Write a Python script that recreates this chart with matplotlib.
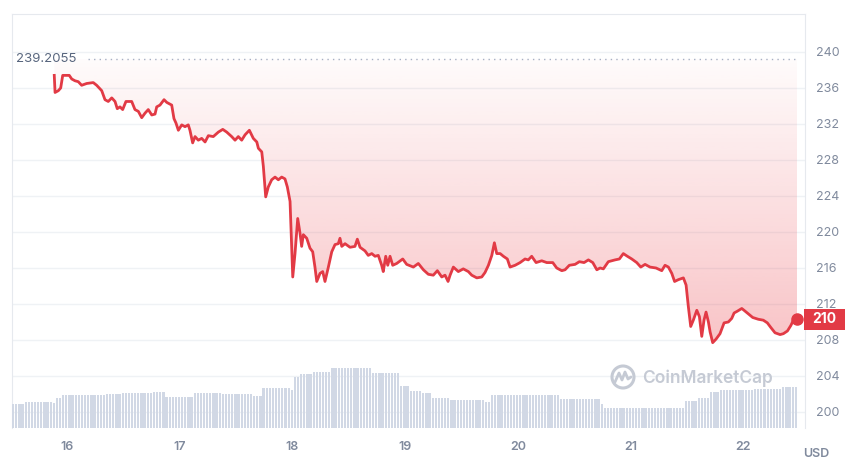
import numpy as np
import matplotlib.pyplot as plt
from matplotlib.patches import Rectangle, Ellipse
from matplotlib.lines import Line2D
from matplotlib.colors import to_rgb
from matplotlib.transforms import blended_transform_factory

plt.rcParams['font.family'] = ['Inter', 'DejaVu Sans']

# price in USD; t = day of month (fractional)
t = [15.887, 15.894, 15.923, 15.944, 15.962, 15.997, 16.020, 16.042, 16.071, 16.100,
     16.130, 16.175, 16.233, 16.263, 16.308, 16.337, 16.366, 16.397, 16.426, 16.446,
     16.470, 16.494, 16.523, 16.574, 16.603, 16.633, 16.663, 16.692, 16.721, 16.752,
     16.781, 16.796, 16.825, 16.861, 16.885, 16.929, 16.949, 16.967, 16.988, 17.018,
     17.047, 17.076, 17.091, 17.115, 17.136, 17.165, 17.195, 17.225, 17.254, 17.298,
     17.343, 17.382, 17.417, 17.461, 17.491, 17.520, 17.550, 17.580, 17.618, 17.653,
     17.684, 17.698, 17.728, 17.742, 17.763, 17.786, 17.816, 17.846, 17.875, 17.905,
     17.934, 17.955, 17.979, 17.994, 18.003, 18.023, 18.047, 18.067, 18.082, 18.097,
     18.127, 18.156, 18.180, 18.200, 18.216, 18.245, 18.269, 18.289, 18.319, 18.349,
     18.378, 18.407, 18.422, 18.438, 18.467, 18.511, 18.555, 18.576, 18.600, 18.644,
     18.673, 18.704, 18.733, 18.762, 18.792, 18.806, 18.828, 18.846, 18.866, 18.890,
     18.925, 18.979, 19.014, 19.073, 19.117, 19.162, 19.206, 19.250, 19.286, 19.325,
     19.354, 19.381, 19.399, 19.428, 19.472, 19.516, 19.561, 19.591, 19.636, 19.680,
     19.709, 19.739, 19.769, 19.792, 19.813, 19.843, 19.872, 19.907, 19.931, 19.976,
     20.020, 20.064, 20.093, 20.123, 20.162, 20.212, 20.257, 20.310, 20.345, 20.390,
     20.419, 20.457, 20.508, 20.546, 20.588, 20.626, 20.665, 20.701, 20.730, 20.759,
     20.803, 20.863, 20.901, 20.936, 20.972, 21.011, 21.055, 21.091, 21.129, 21.173,
     21.226, 21.277, 21.306, 21.336, 21.366, 21.391, 21.424, 21.469, 21.493, 21.513,
     21.534, 21.557, 21.588, 21.611, 21.632, 21.652, 21.670, 21.691, 21.706, 21.729,
     21.759, 21.794, 21.830, 21.868, 21.898, 21.919, 21.948, 21.987, 22.007, 22.045,
     22.084, 22.134, 22.178, 22.214, 22.244, 22.282, 22.327, 22.356, 22.392, 22.422,
     22.445, 22.478]
price = [237.4, 235.5, 235.7, 236.0, 237.4, 237.4, 237.4, 237.0, 236.8, 236.7,
         236.3, 236.5, 236.6, 236.3, 235.7, 234.7, 234.5, 234.9, 234.5, 233.7,
         233.9, 233.6, 234.5, 234.5, 233.6, 233.4, 232.7, 233.2, 233.6, 233.0,
         233.1, 233.9, 234.1, 234.7, 234.4, 234.1, 232.6, 232.1, 231.3, 231.9,
         231.7, 231.9, 231.3, 229.9, 230.6, 230.2, 230.4, 230.0, 230.7, 230.6,
         231.1, 231.4, 231.1, 230.6, 230.2, 230.6, 230.2, 230.8, 231.3, 230.4,
         230.0, 229.3, 228.9, 227.3, 223.9, 225.0, 225.8, 226.1, 225.8, 226.1,
         225.9, 225.0, 223.4, 218.0, 215.0, 217.6, 221.5, 219.9, 218.4, 219.7,
         219.3, 218.2, 217.8, 216.1, 214.5, 215.4, 215.6, 214.5, 216.1, 217.8,
         218.6, 218.7, 219.3, 218.4, 218.7, 218.3, 218.4, 219.2, 218.3, 217.9,
         217.4, 217.6, 217.3, 217.4, 216.3, 215.6, 217.3, 216.3, 217.3, 216.3,
         216.5, 217.0, 216.4, 216.1, 216.5, 215.8, 215.3, 215.2, 215.7, 215.0,
         215.2, 214.5, 215.2, 216.1, 215.6, 215.9, 215.6, 215.2, 214.9, 215.0,
         215.5, 216.3, 217.4, 218.8, 217.6, 217.6, 217.3, 217.0, 216.1, 216.3,
         216.6, 217.0, 216.9, 217.3, 216.6, 216.8, 216.6, 216.6, 216.0, 215.7,
         215.8, 216.3, 216.4, 216.7, 216.6, 216.9, 216.6, 215.8, 216.0, 215.9,
         216.7, 216.9, 217.0, 217.6, 217.3, 217.0, 216.6, 216.1, 216.4, 216.1,
         216.0, 215.7, 216.3, 216.1, 215.4, 214.5, 214.7, 214.9, 214.1, 211.7,
         209.5, 210.2, 211.3, 210.6, 208.4, 210.2, 211.1, 210.0, 208.9, 207.7,
         208.1, 208.7, 209.9, 210.0, 210.4, 211.0, 211.2, 211.5, 211.3, 210.9,
         210.5, 210.3, 210.2, 209.9, 209.4, 208.8, 208.6, 208.7, 209.0, 209.6,
         210.2, 210.3]
REF_PRICE = 239.2055
LAST_LABEL = "210"

# 24h volume (bn USD), one bar per 40 minutes: level and number of bars at it
vol_level = [2.40, 2.57, 2.50, 2.97, 3.30, 3.40, 3.50, 3.63, 3.07, 3.47, 3.37, 3.23,
             3.97, 3.80, 5.07, 5.40, 5.57, 5.97, 5.50, 4.23, 3.73, 3.50, 3.00, 2.76,
             2.58, 3.26, 2.90, 2.40, 2.00, 2.66, 3.00, 3.56, 3.76, 3.93, 4.10]
vol_count = [4, 9, 1, 2, 14, 5, 10, 4, 9, 9, 10, 3, 9, 1, 2, 4, 6, 13, 9, 3, 4, 3,
             6, 11, 2, 22, 13, 1, 26, 4, 4, 3, 11, 9, 5]
VOL_T0, VOL_STEP = 15.512, 1 / 36

days = [16, 17, 18, 19, 20, 21, 22]
yticks = list(range(200, 241, 4))

RED = '#e23a45'
GREY = '#808a9d'
GRID = '#eff2f5'
XLIM = (15.512, 22.548)
YLIM = (198.22, 244.22)
W, H = 850, 467
rect = [12 / W, 1 - 428 / H, 793 / W, 414 / H]

fig = plt.figure(figsize=(W / 100, H / 100), dpi=100)
ax = fig.add_axes(rect)

# gradient fill between the line and the reference price
poly = ax.fill_between(t, price, REF_PRICE, color='none', lw=0)
grad = np.zeros((256, 1, 4))
grad[..., :3] = to_rgb('#ea3943')
grad[:, 0, 3] = np.linspace(0.30, 0.02, 256)
im = ax.imshow(grad, origin='lower', aspect='auto', interpolation='bilinear',
               extent=[t[0], t[-1], min(price), REF_PRICE], zorder=1)
im.set_clip_path(poly.get_paths()[0], transform=ax.transData)

ax.plot(t, price, color=RED, lw=2.0, zorder=3, solid_joinstyle='round')
ax.plot(t[-1], price[-1], 'o', ms=8, color=RED, zorder=4, clip_on=False)

# reference price dotted line + label
ax.axhline(REF_PRICE, xmin=0.096, xmax=0.99, color='#a6b0c3', lw=1,
           ls=(0, (1, 3)), zorder=2)
tr = blended_transform_factory(ax.transAxes, ax.transData)
ax.text(0.005, REF_PRICE, f"{REF_PRICE:.4f}", transform=tr, ha='left',
        va='center', fontsize=9.5, color='#58667e')

ax.set_xlim(*XLIM)
ax.set_ylim(*YLIM)
ax.yaxis.tick_right()
ax.set_yticks(yticks)
ax.set_xticks(days)
ax.set_xticklabels([str(d) for d in days])
ax.tick_params(axis='y', length=0, pad=8, labelsize=9, labelcolor=GREY)
ax.tick_params(axis='x', length=0, pad=9, labelsize=9, labelcolor=GREY)
for lbl in ax.get_xticklabels():
    lbl.set_fontweight('semibold')
ax.grid(axis='y', color=GRID, lw=1)
ax.set_axisbelow(True)
for side in ['top', 'left', 'right']:
    ax.spines[side].set_color('#e6e9ee')
ax.spines['bottom'].set_visible(False)

# volume bars on their own transparent axes
axv = fig.add_axes(rect)
axv.set_zorder(ax.get_zorder() + 1)
axv.patch.set_visible(False)
vol = np.repeat(vol_level, vol_count)
vt = VOL_T0 + np.arange(len(vol)) * VOL_STEP
axv.bar(vt, vol, width=VOL_STEP * 0.72, align='edge', color='#d1d8e5', lw=0)
axv.set_xlim(*XLIM)
axv.set_ylim(0, 41.4)
axv.axis('off')

# last price tag
tag_tr = blended_transform_factory(fig.transFigure, ax.transData)
fig.add_artist(Rectangle((804 / W, price[-1] - 1.17), 41 / W, 2.34,
                         transform=tag_tr, color=RED, lw=0, zorder=5))
fig.text(824.5 / W, price[-1], LAST_LABEL, transform=tag_tr, ha='center',
         va='center', color='white', fontsize=10, fontweight='bold', zorder=6)

fig.text(816 / W, 1 - 454 / H, "USD", ha='center', va='center', fontsize=9,
         color=GREY, fontweight='semibold')

# watermark
WM = '#c5cad4'
fig.add_artist(Ellipse((623 / W, 1 - 377 / H), 22 / W, 22 / H, fill=False,
                       ec=WM, lw=2.2, transform=fig.transFigure))
wx = np.array([615, 619, 622, 625, 628, 631]) / W
wy = 1 - np.array([382, 373, 380, 372, 379, 377]) / H
fig.add_artist(Line2D(wx, wy, color=WM, lw=2, transform=fig.transFigure,
                      solid_joinstyle='round', solid_capstyle='round'))
fig.text(642 / W, 1 - 378 / H, "CoinMarketCap", ha='left', va='center',
         fontsize=12.5, color=WM, fontweight='semibold')

fig.savefig('out.png', dpi=100)
